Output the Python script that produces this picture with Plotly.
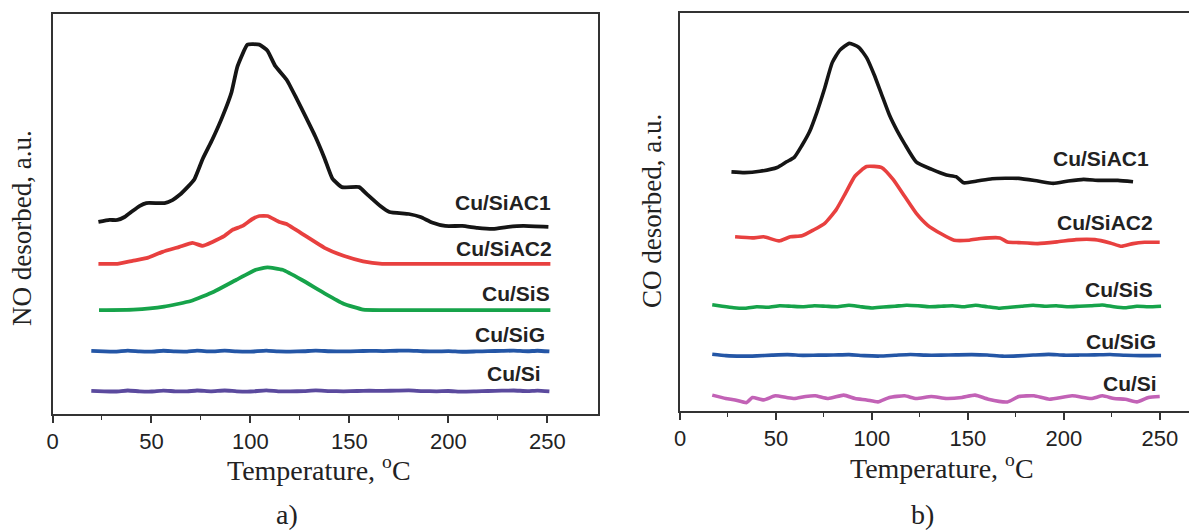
import plotly.graph_objects as go

# ---------------- Panel a) NO desorption ----------------
no_ac1_T = [23.2, 28.8, 32.8, 36.4, 40.4, 43.9, 47.4, 56.6, 60.6, 64.1, 68.2, 71.7, 75.8, 80.8, 85.9,
            90.4, 93.4, 98.5, 104.5, 108.6, 112.4, 118.2, 123.0, 127.8, 132.7, 137.4, 141.4, 146.2,
            154.9, 158.8, 165.6, 170.2, 180.0, 185.9, 191.7, 198.4, 207.0, 214.6, 222.6, 230.3, 237.9, 250.5]
no_ac1_v = [188, 190, 190, 193, 199, 204, 207, 207, 210, 215, 223, 231, 251, 271, 294,
            318, 344, 366, 366, 360, 345, 331, 313, 294, 274, 252, 231.5, 223,
            223, 216, 204, 198, 196, 193, 187.5, 184, 184, 182, 181, 183, 184, 183]

no_ac2_T = [23.2, 32.8, 40.4, 48.0, 55.6, 64.1, 70.7, 75.8, 80.8, 86.9, 90.9, 96.0, 101.0, 104.5,
            108.6, 114.6, 118.2, 127.8, 137.4, 147.0, 156.9, 166.5, 200.0, 251.5]
no_ac2_v = [146, 146, 149, 152, 158, 163, 167, 164, 168, 174, 180, 184, 191, 194,
            194, 188, 186, 174, 162, 154, 148.5, 146, 146, 146]

no_sis_T = [23.5, 40.9, 56.4, 69.9, 81.5, 92.9, 102.7, 108.6, 116.2, 125.8, 137.4, 147.0, 156.9, 166.5, 251.5]
no_sis_v = [99.5, 100, 103, 108.6, 118, 130, 140, 142.5, 140, 130, 116.4, 106, 100, 99.5, 99.5]

no_sig_T = [19.6, 26, 32, 38, 44, 50, 56, 62, 68, 73, 80, 87, 93, 100, 108, 114, 120, 127, 133, 140,
            147, 154, 160, 167, 174, 180, 187, 194, 200, 207, 214, 220, 227, 233, 240, 245, 251]
no_sig_v = [58.5, 58, 57.8, 58.8, 58, 57.8, 58.7, 58, 57.9, 58.8, 58, 58.8, 58, 57.8, 58.9, 58, 57.9, 58.2, 58.9, 58.2,
            58, 58.3, 58.6, 58.4, 58.7, 58.9, 58.2, 58, 58.3, 57.7, 58, 58.3, 58.6, 58.8, 58.2, 58.7, 58]

no_si_T = [19.6, 26, 32, 38, 44, 50, 56, 62, 68, 73, 80, 87, 93, 100, 108, 114, 120, 127, 133, 140,
           147, 154, 160, 167, 174, 180, 187, 194, 200, 207, 214, 220, 227, 233, 240, 245, 251]
no_si_v = [18.5, 18, 17.8, 18.8, 18, 17.8, 18.7, 18, 17.9, 18.8, 18, 18.8, 18, 17.8, 18.9, 18, 17.9, 18.2, 18.9, 18.2,
           18, 18.3, 18.6, 18.4, 18.7, 18.9, 18.2, 18, 18.3, 17.7, 18, 18.3, 18.6, 18.8, 18.2, 18.7, 18]

# ---------------- Panel b) CO desorption ----------------
co_ac1_T = [26.8, 33.7, 41.6, 50.6, 55.5, 59.5, 63.5, 67.4, 71.4, 75.4, 79.3, 83.3, 88.2, 93.2, 97.2,
            101.1, 105.1, 109.1, 113.0, 117.0, 123.0, 130.9, 138.8, 143.8, 147.8, 154.7, 162.6, 176.5,
            186.4, 194.4, 202.3, 210.2, 218.2, 228.1, 236.0]
co_ac1_v = [239, 238.3, 239.6, 243.4, 249.1, 253.5, 265.4, 278.9, 299.2, 323, 348.4, 360.9, 367.7, 363.6, 353.4,
            336.5, 316.2, 295.9, 280.6, 267.1, 249.1, 241.7, 235.9, 234.2, 228.1, 229.8, 232.2, 232.5,
            229.8, 227.5, 229.8, 231.5, 230.5, 230.5, 229.1]

co_ac2_T = [28.7, 37.7, 43.6, 51.6, 57.5, 63.5, 69.4, 75.4, 81.3, 86.3, 91.2, 97.2, 105.1, 111.0, 117.0,
            123.0, 128.9, 135.8, 142.8, 150.7, 156.7, 166.6, 170.6, 176.5, 186.4, 196.4, 206.3, 216.1,
            224.1, 230.0, 236.0, 242.0, 249.9]
co_ac2_v = [174, 172.9, 174, 169.9, 174, 175, 180.7, 187.5, 201, 218, 234.9, 244.4, 243.4, 231.5, 214.6,
            197.7, 185.8, 177.3, 170.6, 170.6, 172.3, 172.9, 168.9, 168.2, 167.2, 168.9, 171.2, 171.2,
            167.9, 164.5, 167.2, 168.5, 168.5]

co_sis_T = [16.8, 22, 28, 34, 40, 46, 52, 58, 64, 70, 76, 82, 88, 94, 100, 106, 112, 118, 124, 130,
            136, 142, 148, 154, 160, 166, 172, 178, 184, 190, 196, 202, 208, 214, 220, 226, 232, 238, 244, 250.6]
co_sis_v = [106, 104.5, 103, 102.5, 104, 103.5, 105, 104.5, 104, 105, 104.5, 104, 105.5, 104, 102.8, 103.8, 104.5,
            105.5, 105, 104, 104.5, 105, 104, 105.5, 104, 102.5, 103.5, 104.5, 105.5, 104.5, 105, 104, 104.5,
            105, 105.8, 104, 103, 104.5, 104, 104.5]

co_sig_T = [16.8, 24, 32, 40, 48, 56, 64, 72, 80, 88, 96, 104, 112, 120, 128, 136, 144, 152, 160, 168,
            176, 184, 192, 200, 208, 216, 224, 232, 240, 250.6]
co_sig_v = [56.5, 55, 54.5, 54.8, 55.5, 56, 55.3, 55.5, 55.6, 56, 55, 54.6, 55.4, 56.2, 55.5, 55.5, 55.8, 56, 55.6,
            54.5, 54.8, 55.6, 56.3, 55.5, 55.6, 55.8, 56.2, 55.4, 55, 55.2]

co_si_T = [16.8, 23.8, 28.7, 34.7, 37.7, 43.6, 49.6, 55.5, 59.5, 65.4, 70.4, 77.3, 85.3, 91.2, 97.2, 103.1,
           109.1, 117.0, 123.0, 130.9, 138.8, 146.8, 153.7, 160.6, 170.6, 176.5, 184.4, 192.4, 204.3, 214.2,
           220.1, 226.1, 232.0, 238.0, 244.0, 249.9]
co_si_v = [15.5, 12.1, 10.7, 8, 13.1, 10.7, 14.8, 13.1, 12.1, 14.1, 14.8, 12.1, 15.5, 12.1, 10.7, 8.7,
           13.1, 14.8, 12.1, 14.1, 12.1, 13.1, 15.5, 11.4, 8.7, 14.1, 14.8, 11.4, 14.8, 12.1,
           14.8, 12.1, 11.4, 8.7, 13.1, 14.1]

series_names = ["Cu/SiAC1", "Cu/SiAC2", "Cu/SiS", "Cu/SiG", "Cu/Si"]
x_ticks = [0, 50, 100, 150, 200, 250]

colors_a = ["#151515", "#e8403f", "#16a34a", "#2456a6", "#5b4a9e"]
colors_b = ["#151515", "#e8403f", "#16a34a", "#2456a6", "#c262b6"]

fig = go.Figure()

panel_a = [(no_ac1_T, no_ac1_v), (no_ac2_T, no_ac2_v), (no_sis_T, no_sis_v), (no_sig_T, no_sig_v), (no_si_T, no_si_v)]
panel_b = [(co_ac1_T, co_ac1_v), (co_ac2_T, co_ac2_v), (co_sis_T, co_sis_v), (co_sig_T, co_sig_v), (co_si_T, co_si_v)]

for (xs, ys), name, col in zip(panel_a, series_names, colors_a):
    fig.add_trace(go.Scatter(x=xs, y=ys, mode="lines", name=name, xaxis="x", yaxis="y",
                             line=dict(color=col, width=3.8, shape="spline", smoothing=0.4),
                             showlegend=False))
for (xs, ys), name, col in zip(panel_b, series_names, colors_b):
    fig.add_trace(go.Scatter(x=xs, y=ys, mode="lines", name=name, xaxis="x2", yaxis="y2",
                             line=dict(color=col, width=3.6, shape="spline", smoothing=0.5),
                             showlegend=False))

# page body has an 8px margin, so the figure is laid out 8px up/left of the target pixels
OFF = 8
W, H = 1197 - OFF, 531 - OFF
def px(x):
    return (x - OFF) / W
def py(y):
    return 1 - (y - OFF) / H

tick_font = dict(family="Liberation Sans, Arial, sans-serif", size=22, color="#222")
serif = "Liberation Serif, Times New Roman, serif"
title_font = dict(family=serif, size=28, color="#222")

def xaxis_cfg(domain, rng, anchor):
    return dict(domain=domain, range=rng, anchor=anchor, automargin=False,
                tickvals=x_ticks, ticks="outside", ticklen=7, tickwidth=1.5,
                tickcolor="#333", showline=True, linecolor="#333", linewidth=1.5, mirror=True,
                showgrid=False, zeroline=False, tickfont=tick_font,
                minor=dict(tickvals=[25, 75, 125, 175, 225], ticks="outside", ticklen=4,
                           tickwidth=1.2, tickcolor="#333"))

def yaxis_cfg(domain, rng, anchor):
    return dict(domain=domain, range=rng, showticklabels=False, ticks="", showline=True,
                linecolor="#333", linewidth=1.5, mirror=True, showgrid=False, zeroline=False,
                anchor=anchor, automargin=False)

fig.update_layout(
    width=W, height=H, plot_bgcolor="white", paper_bgcolor="white",
    margin=dict(l=0, r=0, t=0, b=0, autoexpand=False),
    xaxis=xaxis_cfg([px(52.5), px(597.5)], [0, 275.3], "y"),
    yaxis=yaxis_cfg([py(414), py(14)], [-4.8, 396.8], "x"),
    xaxis2=xaxis_cfg([px(680), px(1196)], [0, 268.8], "y2"),
    yaxis2=yaxis_cfg([py(411), py(13)], [-0.4, 398.1], "x2"),
)

label_font = dict(family="Liberation Sans, Arial, sans-serif", size=21, color="#222")
labels_a = [(253, 208), (253.5, 161), (252.5, 116), (250, 75), (248, 36)]
labels_b = [(245.5, 252), (247.5, 188), (247.5, 121.5), (249, 69), (249.5, 27.3)]
for (lx, ly), name in zip(labels_a, series_names):
    fig.add_annotation(x=lx, y=ly, xref="x", yref="y", text="<b>" + name + "</b>", showarrow=False,
                       xanchor="right", yanchor="middle", font=label_font)
for (lx, ly), name in zip(labels_b, series_names):
    fig.add_annotation(x=lx, y=ly, xref="x2", yref="y2", text="<b>" + name + "</b>", showarrow=False,
                       xanchor="right", yanchor="middle", font=label_font)

# axis titles and panel letters
xtitle = "Temperature, <sup>o</sup>C"
fig.add_annotation(x=px(319), y=py(468), xref="paper", yref="paper", text=xtitle, showarrow=False,
                   xanchor="center", yanchor="middle", font=title_font)
fig.add_annotation(x=px(942), y=py(466), xref="paper", yref="paper", text=xtitle, showarrow=False,
                   xanchor="center", yanchor="middle", font=title_font)
fig.add_annotation(x=px(22), y=py(228), xref="paper", yref="paper", text="NO desorbed, a.u.",
                   textangle=-90, showarrow=False, xanchor="center", yanchor="middle",
                   font=dict(family=serif, size=27, color="#222"))
fig.add_annotation(x=px(652), y=py(211), xref="paper", yref="paper", text="CO desorbed, a.u.",
                   textangle=-90, showarrow=False, xanchor="center", yanchor="middle",
                   font=dict(family=serif, size=27, color="#222"))
fig.add_annotation(x=px(287), y=py(514), xref="paper", yref="paper", text="a)", showarrow=False,
                   xanchor="center", yanchor="middle", font=title_font)
fig.add_annotation(x=px(922), y=py(514), xref="paper", yref="paper", text="b)", showarrow=False,
                   xanchor="center", yanchor="middle", font=title_font)

fig.write_html("out.html")
